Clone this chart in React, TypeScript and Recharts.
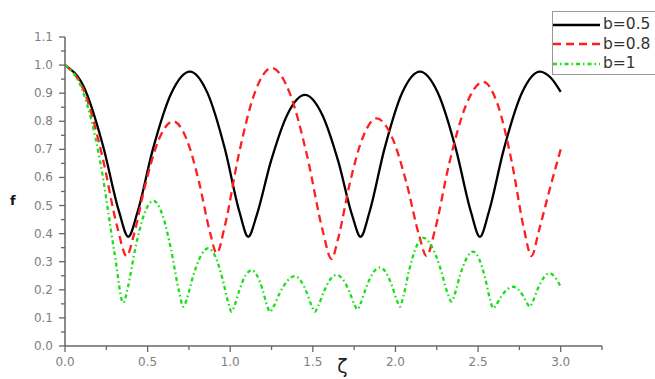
import { LineChart, Line, XAxis, YAxis, Legend } from 'recharts'

// b = 0.5
const b05X = [0, 0.115, 0.23, 0.326, 0.383, 0.439, 0.532, 0.644, 0.756, 0.862, 0.968, 1.056, 1.109, 1.16, 1.246, 1.349, 1.452, 1.553, 1.654, 1.738, 1.789, 1.843, 1.933, 2.04, 2.148, 2.257, 2.366, 2.457, 2.511, 2.565, 2.656, 2.765, 2.874, 2.94, 3.0]
const b05F = [1.0, 0.921, 0.713, 0.481, 0.389, 0.477, 0.701, 0.901, 0.977, 0.901, 0.701, 0.477, 0.389, 0.465, 0.657, 0.828, 0.894, 0.828, 0.657, 0.465, 0.389, 0.477, 0.701, 0.901, 0.977, 0.901, 0.701, 0.477, 0.389, 0.477, 0.701, 0.901, 0.977, 0.955, 0.905]

// b = 0.8
const b08X = [0, 0.112, 0.224, 0.317, 0.373, 0.415, 0.486, 0.57, 0.655, 0.734, 0.813, 0.879, 0.918, 0.968, 1.051, 1.15, 1.25, 1.359, 1.468, 1.559, 1.613, 1.654, 1.722, 1.804, 1.886, 1.977, 2.067, 2.143, 2.188, 2.239, 2.325, 2.428, 2.531, 2.619, 2.706, 2.779, 2.823, 2.868, 2.93, 3.0]
const b08F = [1.0, 0.912, 0.68, 0.422, 0.32, 0.392, 0.574, 0.738, 0.8, 0.739, 0.579, 0.401, 0.33, 0.429, 0.68, 0.904, 0.99, 0.902, 0.67, 0.412, 0.31, 0.385, 0.575, 0.745, 0.81, 0.746, 0.58, 0.394, 0.32, 0.413, 0.649, 0.859, 0.94, 0.859, 0.649, 0.413, 0.32, 0.41, 0.55, 0.7]

// b = 1
const b1X = [0, 0.106, 0.212, 0.3, 0.353, 0.38, 0.425, 0.48, 0.534, 0.589, 0.643, 0.689, 0.716, 0.739, 0.776, 0.822, 0.867, 0.909, 0.952, 0.987, 1.008, 1.026, 1.056, 1.093, 1.129, 1.162, 1.196, 1.223, 1.24, 1.263, 1.3, 1.346, 1.391, 1.427, 1.464, 1.494, 1.512, 1.532, 1.565, 1.604, 1.644, 1.682, 1.72, 1.751, 1.77, 1.79, 1.824, 1.865, 1.906, 1.942, 1.979, 2.009, 2.027, 2.048, 2.083, 2.126, 2.168, 2.219, 2.271, 2.313, 2.339, 2.359, 2.391, 2.431, 2.47, 2.506, 2.543, 2.573, 2.591, 2.609, 2.639, 2.676, 2.712, 2.742, 2.773, 2.798, 2.813, 2.831, 2.861, 2.898, 2.934, 2.965, 3.0]
const b1F = [1.0, 0.91, 0.66, 0.33, 0.154, 0.208, 0.346, 0.47, 0.517, 0.468, 0.34, 0.197, 0.14, 0.171, 0.25, 0.321, 0.348, 0.319, 0.242, 0.156, 0.122, 0.144, 0.2, 0.251, 0.27, 0.251, 0.2, 0.144, 0.122, 0.141, 0.189, 0.232, 0.249, 0.232, 0.189, 0.141, 0.122, 0.142, 0.191, 0.236, 0.253, 0.237, 0.195, 0.148, 0.13, 0.153, 0.21, 0.261, 0.28, 0.262, 0.214, 0.161, 0.14, 0.177, 0.27, 0.353, 0.385, 0.355, 0.278, 0.192, 0.158, 0.185, 0.252, 0.313, 0.336, 0.31, 0.241, 0.164, 0.134, 0.146, 0.175, 0.201, 0.211, 0.202, 0.178, 0.151, 0.14, 0.158, 0.203, 0.244, 0.259, 0.245, 0.211]

const xTicks = [0, 0.25, 0.5, 0.75, 1, 1.25, 1.5, 1.75, 2, 2.25, 2.5, 2.75, 3, 3.25]
const yTicks = [0, 0.05, 0.1, 0.15, 0.2, 0.25, 0.3, 0.35, 0.4, 0.45, 0.5, 0.55, 0.6, 0.65, 0.7, 0.75, 0.8, 0.85, 0.9, 0.95, 1.0, 1.05, 1.1]

const toPoints = (xs: number[], fs: number[]) => xs.map((x, i) => ({ x, f: fs[i] }))

const series = [
	{ name: 'b=0.5', color: '#000000', dash: undefined as string | undefined, width: 2.3, data: toPoints(b05X, b05F) },
	{ name: 'b=0.8', color: '#ff1f1f', dash: '8 5', width: 2.3, data: toPoints(b08X, b08F) },
	{ name: 'b=1', color: '#16e016', dash: '4 3 1.5 3', width: 2.3, data: toPoints(b1X, b1F) },
]

const axisColor = '#666'
const tickFont = '"DejaVu Sans", sans-serif'

const isMajor = (v: number, step: number) => Math.abs(Math.round(v / step) * step - v) < 1e-6

const YTick = (props: any) => {
	const { x, y, payload } = props
	const major = isMajor(payload.value, 0.1)
	return (
		<g>
			<line x1={x - (major ? 6 : 4)} x2={x} y1={y} y2={y} stroke={axisColor} strokeWidth={1.3} />
			{major && (
				<text x={x - 12} y={y} dy={4} textAnchor='end' fontSize={12} fill='#808080' fontFamily={tickFont}>
					{payload.value.toFixed(1)}
				</text>
			)}
		</g>
	)
}

const XTick = (props: any) => {
	const { x, y, payload } = props
	const major = isMajor(payload.value, 0.5) && payload.value <= 3
	return (
		<g>
			<line x1={x} x2={x} y1={y} y2={y + (major ? 6 : 4)} stroke={axisColor} strokeWidth={1.3} />
			{major && (
				<text x={x} y={y + 20} textAnchor='middle' fontSize={12} fill='#808080' fontFamily={tickFont}>
					{payload.value.toFixed(1)}
				</text>
			)}
		</g>
	)
}

const ZetaLabel = (props: any) => {
	const { viewBox } = props
	return (
		<text x={viewBox.x + viewBox.width / 2 + 9} y={viewBox.y + 27} textAnchor='middle' fontSize={19} fill='#222' fontFamily={tickFont}>
			ζ
		</text>
	)
}

const LegendBox = () => (
	<div
		style={{
			width: 112,
			height: 64,
			border: '1px solid #999',
			background: '#fff',
			boxSizing: 'border-box',
			paddingTop: 3,
		}}
	>
		{series.map(s => (
			<div key={s.name} style={{ display: 'flex', alignItems: 'center', height: 19.5 }}>
				<svg width={47} height={8} style={{ display: 'block' }}>
					<line x1={0} x2={47} y1={4} y2={4} stroke={s.color} strokeWidth={2.3} strokeDasharray={s.dash} />
				</svg>
				<span style={{ fontFamily: tickFont, fontSize: 15.5, color: '#333', marginLeft: 3, lineHeight: '19px' }}>{s.name}</span>
			</div>
		))}
	</div>
)

export default function App() {
	return (
		<div style={{ position: 'absolute', left: 0, top: 0, width: 655, height: 379, overflow: 'hidden', background: '#fff' }}>
			<LineChart width={655} height={379} margin={{ top: 37, right: 53, bottom: 0, left: 0 }}>
				<XAxis
					dataKey='x'
					type='number'
					domain={[0, 3.25]}
					ticks={xTicks}
					interval={0}
					height={33}
					tickSize={0}
					tickMargin={0}
					tick={<XTick />}
					stroke={axisColor}
					strokeWidth={1.5}
					allowDataOverflow
					label={<ZetaLabel />}
				/>
				<YAxis
					dataKey='f'
					type='number'
					domain={[0, 1.1]}
					ticks={yTicks}
					interval={0}
					width={65}
					tickSize={0}
					tickMargin={0}
					tick={<YTick />}
					stroke={axisColor}
					strokeWidth={1.5}
					allowDataOverflow
					label={{ value: 'f', position: 'insideLeft', offset: 10, dy: 9, fontSize: 13, fontWeight: 'bold', fill: '#111', fontFamily: tickFont }}
				/>
				<Legend
					layout='vertical'
					align='center'
					verticalAlign='middle'
					content={<LegendBox />}
					wrapperStyle={{ left: 552, top: 11, width: 112 }}
				/>
				{series.map(s => (
					<Line
						key={s.name}
						name={s.name}
						data={s.data}
						dataKey='f'
						type='monotone'
						stroke={s.color}
						strokeWidth={s.width}
						strokeDasharray={s.dash}
						dot={false}
						activeDot={false}
						isAnimationActive={false}
					/>
				))}
			</LineChart>
		</div>
	)
}
